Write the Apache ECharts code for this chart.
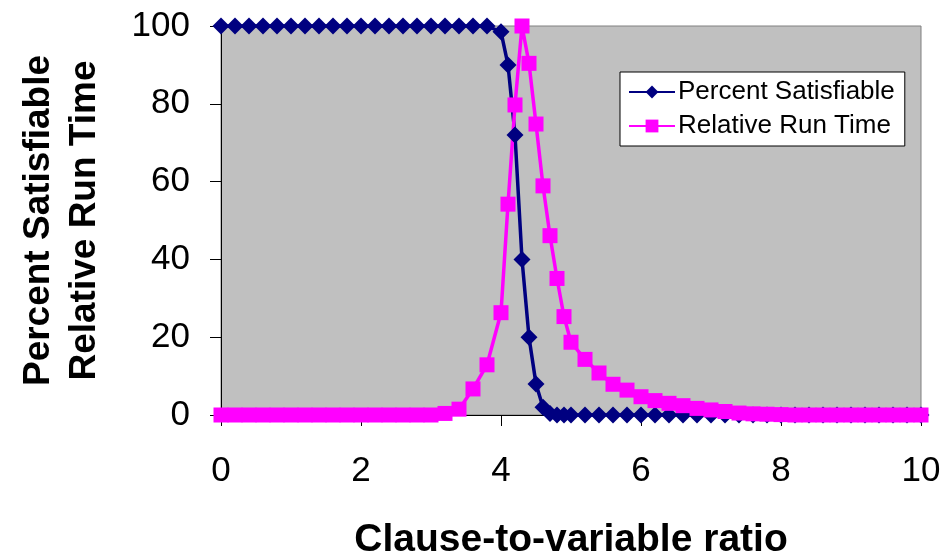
<!DOCTYPE html>
<html>
<head>
<meta charset="utf-8">
<script src="https://cdn.jsdelivr.net/npm/echarts@6/dist/echarts.min.js"></script>
<style>
  html, body { margin: 0; padding: 0; background: #fff; }
  #chart { width: 951px; height: 555px; }
</style>
</head>
<body>
<div id="chart"></div>
<script>
// clause-to-variable ratio (x positions of the samples)
const ratios = [
  0, 0.2, 0.4, 0.6, 0.8, 1.0, 1.2, 1.4, 1.6, 1.8,
  2.0, 2.2, 2.4, 2.6, 2.8, 3.0, 3.2, 3.4, 3.6, 3.8,
  4.0, 4.1, 4.2, 4.3, 4.4, 4.5, 4.6, 4.7, 4.8, 4.9, 5.0,
  5.2, 5.4, 5.6, 5.8, 6.0, 6.2, 6.4, 6.6, 6.8, 7.0,
  7.2, 7.4, 7.6, 7.8, 8.0, 8.2, 8.4, 8.6, 8.8, 9.0,
  9.2, 9.4, 9.6, 9.8, 10.0
]
const percentSat = [
  100, 100, 100, 100, 100, 100, 100, 100, 100, 100,
  100, 100, 100, 100, 100, 100, 100, 100, 100, 100,
  98.5, 90, 72, 40, 20, 8, 2, 0.4, 0, 0, 0,
  0, 0, 0, 0, 0, 0, 0, 0, 0, 0,
  0, 0, 0, 0, 0, 0, 0, 0, 0, 0,
  0, 0, 0, 0, 0
]
const runTime = [
  0, 0, 0, 0, 0, 0, 0, 0, 0, 0,
  0, 0, 0, 0, 0, 0, 0.4, 1.5, 6.7, 12.9,
  26.3, 54.2, 79.7, 100, 90.4, 74.8, 58.9, 46.1, 35.1, 25.3, 18.7,
  14.3, 10.8, 7.9, 6.4, 4.7, 3.7, 3.0, 2.4, 1.7, 1.3,
  0.9, 0.5, 0.3, 0.2, 0.1, 0, 0, 0, 0, 0,
  0, 0, 0, 0, 0
]
const yTicks = [0, 20, 40, 60, 80, 100]

const font = "'Liberation Sans', Arial, sans-serif"
const chart = echarts.init(document.getElementById('chart'))

chart.setOption({
  animation: false,
  textStyle: { fontFamily: font },
  grid: {
    left: 221, right: 30, top: 26, bottom: 140,
    outerBoundsMode: 'none',
    containLabel: false,
    show: true,
    backgroundColor: '#c0c0c0',
    borderColor: '#808080',
    borderWidth: 1
  },
  legend: {
    orient: 'vertical',
    left: 620,
    top: 72,
    backgroundColor: '#fff',
    borderColor: '#000',
    borderWidth: 1,
    borderRadius: 0,
    padding: [7, 10, 7, 8],
    itemWidth: 46,
    itemHeight: 16,
    itemGap: 8,
    textStyle: { fontSize: 26, color: '#000', fontFamily: font, padding: [0, 0, 0, -2] },
    data: ['Percent Satisfiable', 'Relative Run Time']
  },
  xAxis: {
    type: 'value',
    min: 0,
    max: 10,
    interval: 2,
    name: 'Clause-to-variable ratio',
    nameLocation: 'middle',
    nameGap: 106,
    nameTextStyle: { fontSize: 39, fontWeight: 'bold', color: '#000', fontFamily: font },
    axisLine: { show: true, onZero: false, lineStyle: { color: '#000', width: 1 } },
    axisTick: { show: true, length: 11, lineStyle: { color: '#000' } },
    axisLabel: { fontSize: 35, color: '#000', margin: 39, fontFamily: font },
    splitLine: { show: false }
  },
  yAxis: {
    type: 'value',
    min: yTicks[0],
    max: yTicks[yTicks.length - 1],
    interval: 20,
    name: 'Percent Satisfiable\nRelative Run Time',
    nameLocation: 'middle',
    nameRotate: 90,
    nameGap: 113,
    nameTextStyle: { fontSize: 37, fontWeight: 'bold', color: '#000', lineHeight: 46, fontFamily: font },
    axisLine: { show: true, lineStyle: { color: '#000', width: 1 } },
    axisTick: { show: true, length: 11, lineStyle: { color: '#000' } },
    axisLabel: { fontSize: 35, color: '#000', margin: 31, fontFamily: font },
    splitLine: { show: false }
  },
  series: [
    {
      name: 'Percent Satisfiable',
      type: 'line',
      clip: false,
      data: ratios.map((x, i) => [x, percentSat[i]]),
      symbol: 'diamond',
      symbolSize: 17,
      lineStyle: { color: '#000080', width: 3.5 },
      itemStyle: { color: '#000080' }
    },
    {
      name: 'Relative Run Time',
      type: 'line',
      clip: false,
      data: ratios.map((x, i) => [x, runTime[i]]),
      symbol: 'rect',
      symbolSize: 15,
      lineStyle: { color: '#ff00ff', width: 3.5 },
      itemStyle: { color: '#ff00ff' }
    }
  ]
})
</script>
</body>
</html>
